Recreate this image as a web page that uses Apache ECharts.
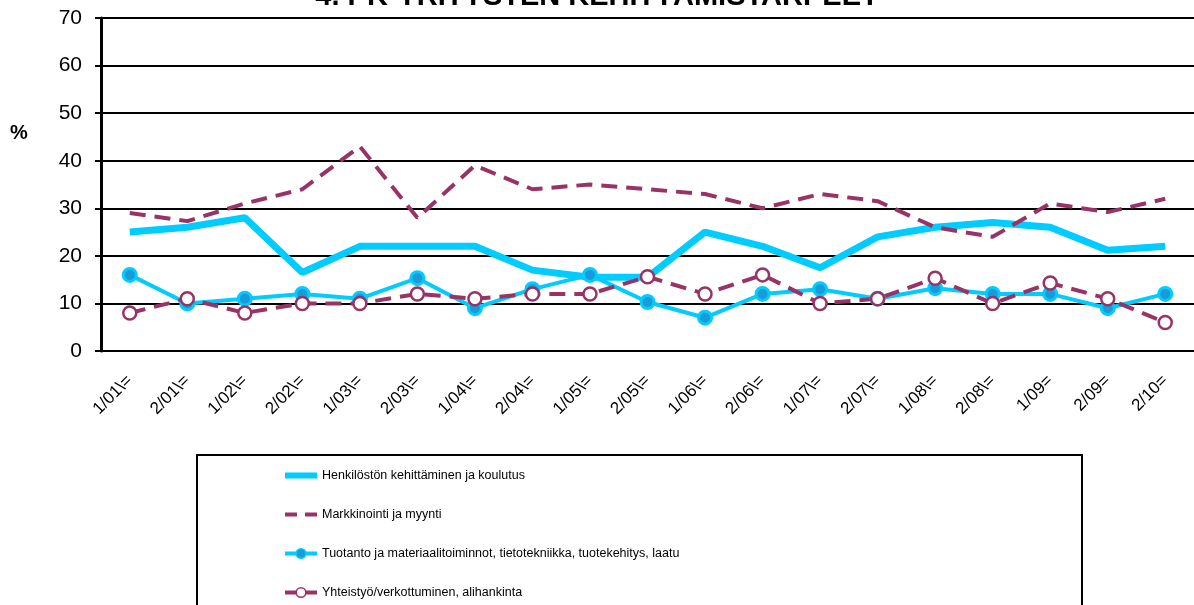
<!DOCTYPE html>
<html>
<head>
<meta charset="utf-8">
<script src="https://cdn.jsdelivr.net/npm/echarts@6/dist/echarts.min.js"></script>
<style>html,body{margin:0;padding:0;background:#fff;}#c{width:1194px;height:605px;}</style>
</head>
<body>
<div id="c"></div>
<script>
const categories = ['1/01\\=','2/01\\=','1/02\\=','2/02\\=','1/03\\=','2/03\\=','1/04\\=','2/04\\=','1/05\\=','2/05\\=','1/06\\=','2/06\\=','1/07\\=','2/07\\=','1/08\\=','2/08\\=','1/09=','2/09=','2/10='];
const seriesNames = ['Henkilöstön kehittäminen ja koulutus','Markkinointi ja myynti','Tuotanto ja materiaalitoiminnot, tietotekniikka, tuotekehitys, laatu','Yhteistyö/verkottuminen, alihankinta'];
const henkilosto = [25,26,28,16.5,22,22,22,17,15.5,15.5,25,22,17.5,24,26,27,26,21.2,22];
const markkinointi = [29,27.3,31,34,43,28,39,34,35,34,33,30,33,31.5,26,24,31,29.2,32];
const tuotanto = [16,10,11,12,11,15.3,9,13,16,10.3,7,12,13,11,13.2,12,12,9,12];
const yhteistyo = [8,11,8,10,10,12,11,12,12,15.6,12,16,10,11,15.3,10,14.3,11,6];
const yTicks = {min:0, max:70, interval:10};

const FONT = 'Arial, "Liberation Sans", sans-serif';
const CYAN = '#00CCFF', PURPLE = '#993366';
const DASH = [16,9];

const chart = echarts.init(document.getElementById('c'), null, {renderer:'canvas'});
chart.setOption({
  backgroundColor:'#fff',
  animation:false,
  title:{text:'4. PK-YRITYSTEN KEHITTÄMISTARPEET', left:'center', top:-23,
    textStyle:{fontFamily:FONT, fontSize:29, fontWeight:'bold', color:'#000'}},
  graphic:[
    {type:'text', left:10, top:123, style:{text:'%', font:'bold 20px Arial, "Liberation Sans", sans-serif', fill:'#000'}},
    {type:'rect', shape:{x:197, y:455, width:885, height:170}, style:{fill:'none', stroke:'#000', lineWidth:2}, z:-1}
  ],
  legend:{orient:'vertical', left:282, top:469, padding:0, itemWidth:32, itemHeight:12, itemGap:26, itemGap:26,
    textStyle:{fontFamily:FONT, fontSize:12.5, color:'#000'},
    data:[
      {name:seriesNames[0], itemStyle:{color:'transparent', borderWidth:0}, lineStyle:{width:6, color:CYAN}},
      {name:seriesNames[1], itemStyle:{color:'transparent', borderWidth:0}, lineStyle:{width:4, color:PURPLE, type:[12,8]}},
      {name:seriesNames[2], lineStyle:{width:4, color:CYAN, type:'solid'}, itemStyle:{color:'#1A9AD8', borderColor:CYAN, borderWidth:1.5}},
      {name:seriesNames[3], lineStyle:{width:4, color:PURPLE, type:'solid'}, itemStyle:{color:'#fff', borderColor:PURPLE, borderWidth:1.5}}
    ]},
  grid:{left:101, top:18, width:1100, height:333, containLabel:false},
  xAxis:{type:'category', data:categories, boundaryGap:true,
    axisLine:{show:true, lineStyle:{color:'#000', width:2}},
    axisTick:{show:false},
    axisLabel:{rotate:45, fontFamily:FONT, fontSize:17, color:'#000', margin:27, interval:0},
    splitLine:{show:false}},
  yAxis:{type:'value', min:yTicks.min, max:yTicks.max, interval:yTicks.interval,
    axisLine:{show:true, lineStyle:{color:'#000', width:3}},
    axisTick:{show:true, inside:false, length:6, lineStyle:{color:'#000', width:2}},
    axisLabel:{fontFamily:FONT, fontSize:21, color:'#000', margin:19},
    splitLine:{show:true, lineStyle:{color:'#000', width:2}}},
  series:[
    {name:seriesNames[0], type:'line', data:henkilosto, showSymbol:false, symbol:'none',
      lineStyle:{color:CYAN, width:7}, itemStyle:{color:CYAN}},
    {name:seriesNames[1], type:'line', data:markkinointi, showSymbol:false, symbol:'none',
      lineStyle:{color:PURPLE, width:4, type:DASH}, itemStyle:{color:PURPLE}},
    {name:seriesNames[2], type:'line', data:tuotanto, symbol:'circle', symbolSize:13,
      lineStyle:{color:CYAN, width:4}, itemStyle:{color:'#1A9AD8', borderColor:CYAN, borderWidth:3}},
    {name:seriesNames[3], type:'line', data:yhteistyo, symbol:'circle', symbolSize:13,
      lineStyle:{color:PURPLE, width:4, type:DASH}, itemStyle:{color:'#fff', borderColor:PURPLE, borderWidth:2.5}}
  ]
});
</script>
</body>
</html>
